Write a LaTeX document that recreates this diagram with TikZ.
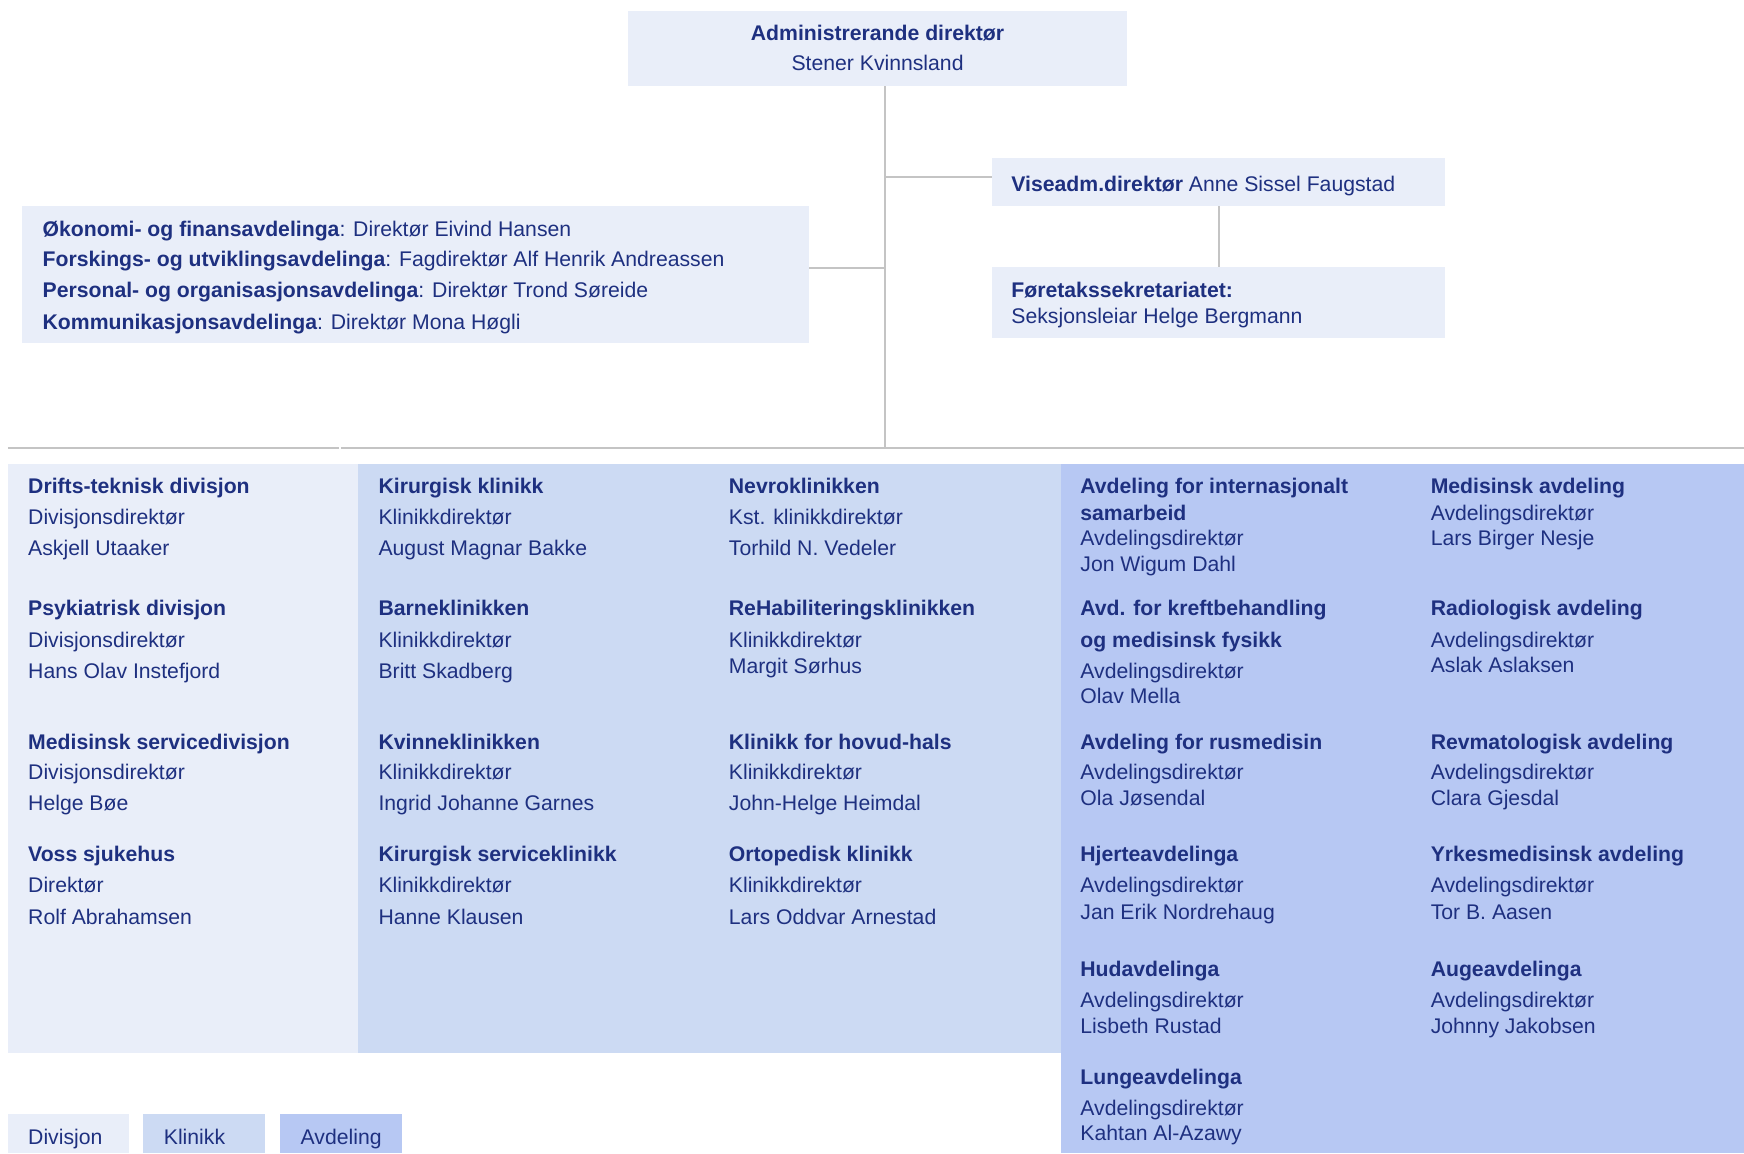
\documentclass[tikz,border=0pt]{standalone}
\usepackage{fontspec}
\setmainfont{Liberation Sans}
\usetikzlibrary{fit}
\definecolor{txt}{RGB}{30,48,128}
\definecolor{cdiv}{RGB}{233,238,249}
\definecolor{ckli}{RGB}{204,218,243}
\definecolor{cavd}{RGB}{183,200,243}
\definecolor{cline}{RGB}{196,196,196}
\begin{document}
\begin{tikzpicture}[x=0.5561pt,y=-0.5561pt,
  panel/.style={fit={#1},inner sep=0pt,draw=none},
  conn/.style={draw=cline,line width=1pt},
  t/.style={anchor=base west,inner sep=0pt,text=txt,font=\fontsize{10.6}{12.7}\selectfont},
  tc/.style={t,anchor=base}]
\useasboundingbox (0,0) rectangle (1568,1037);
% boxes
\node[panel={(565,10) (1013,77)},fill=cdiv] (ceo) {};
\node[panel={(892,142) (1299,185)},fill=cdiv] (vise) {};
\node[panel={(892,240) (1299,304)},fill=cdiv] (fore) {};
\node[panel={(20,185) (727,308)},fill=cdiv] (staff) {};
\node[panel={(7,417) (322,947)},fill=cdiv] (pdiv) {};
\node[panel={(322,417) (954,947)},fill=ckli] (pkli) {};
\node[panel={(954,417) (1568,1037)},fill=cavd] (pavd) {};
\node[panel={(7,1002) (116,1037)},fill=cdiv] (ldiv) {};
\node[panel={(129,1002) (238,1037)},fill=ckli] (lkli) {};
\node[panel={(252,1002) (361,1037)},fill=cavd] (lavd) {};
% connectors
\coordinate (jv) at (796,159);
\coordinate (js) at (796,241);
\coordinate (jb) at (796,403);
\coordinate (vx) at (1096,0);
\coordinate (barL) at (7,403);
\coordinate (gapL) at (305,403);
\coordinate (gapR) at (306.5,403);
\coordinate (barR) at (1568,403);
\draw[conn] (ceo.south -| jb) -- (jb);
\draw[conn] (jv) -- (jv -| vise.west);
\draw[conn] (js) -- (js -| staff.east);
\draw[conn] (vise.south -| vx) -- (fore.north -| vx);
\draw[conn] (barL) -- (gapL);
\draw[conn] (gapR) -- (barR);
% top texts
\node[tc,font=\fontsize{10.6}{12.7}\selectfont\bfseries] (ceo1) at (789,30+6.8) {Administrerande direktør};
\node[tc] (ceo2) at (789,57+6.8) {Stener Kvinnsland};
\node[t] (vise1) at (909,165+6.8) {{\bfseries Viseadm.direktør} Anne Sissel Faugstad};
\node[t] (fore1) at (909,261+6.8) {\bfseries Føretakssekretariatet:};
\node[t] (fore2) at (909,284+6.8) {Seksjonsleiar Helge Bergmann};
\foreach \y/\s [count=\i] in {
  206/{{\bfseries Økonomi- og finansavdelinga}: Direktør Eivind Hansen},
  233/{{\bfseries Forskings- og utviklingsavdelinga}: Fagdirektør Alf Henrik Andreassen},
  261/{{\bfseries Personal- og organisasjonsavdelinga}: Direktør Trond Søreide},
  289/{{\bfseries Kommunikasjonsavdelinga}: Direktør Mona Høgli}}
  \node[t] (st\i) at (38,\y+6.8) {\s};
% division column
\foreach \y/\s [count=\i] in {
  437/{\bfseries Drifts-teknisk divisjon}, 465/Divisjonsdirektør, 493/Askjell Utaaker,
  547/{\bfseries Psykiatrisk divisjon}, 575/Divisjonsdirektør, 603/Hans Olav Instefjord,
  667/{\bfseries Medisinsk servicedivisjon}, 694/Divisjonsdirektør, 722/Helge Bøe,
  768/{\bfseries Voss sjukehus}, 796/Direktør, 824/Rolf Abrahamsen}
  \node[t] (dv\i) at (25,\y+6.8) {\s};
% klinikk column 1
\foreach \y/\s [count=\i] in {
  437/{\bfseries Kirurgisk klinikk}, 465/Klinikkdirektør, 493/August Magnar Bakke,
  547/{\bfseries Barneklinikken}, 575/Klinikkdirektør, 603/Britt Skadberg,
  667/{\bfseries Kvinneklinikken}, 694/Klinikkdirektør, 722/Ingrid Johanne Garnes,
  768/{\bfseries Kirurgisk serviceklinikk}, 796/Klinikkdirektør, 824/Hanne Klausen}
  \node[t] (ka\i) at (340,\y+6.8) {\s};
% klinikk column 2
\foreach \y/\s [count=\i] in {
  437/{\bfseries Nevroklinikken}, 465/Kst. klinikkdirektør, 493/Torhild N. Vedeler,
  547/{\bfseries ReHabiliteringsklinikken}, 575/Klinikkdirektør, 599/Margit Sørhus,
  667/{\bfseries Klinikk for hovud-hals}, 694/Klinikkdirektør, 722/John-Helge Heimdal,
  768/{\bfseries Ortopedisk klinikk}, 796/Klinikkdirektør, 824/Lars Oddvar Arnestad}
  \node[t] (kb\i) at (655,\y+6.8) {\s};
% avdeling column 1
\foreach \y/\s [count=\i] in {
  437/{\bfseries Avdeling for internasjonalt}, 461/{\bfseries samarbeid}, 484/Avdelingsdirektør, 507/Jon Wigum Dahl,
  547/{\bfseries Avd. for kreftbehandling}, 575/{\bfseries og medisinsk fysikk}, 603/Avdelingsdirektør, 626/Olav Mella,
  667/{\bfseries Avdeling for rusmedisin}, 694/Avdelingsdirektør, 717/Ola Jøsendal,
  768/{\bfseries Hjerteavdelinga}, 796/Avdelingsdirektør, 820/Jan Erik Nordrehaug,
  871/{\bfseries Hudavdelinga}, 899/Avdelingsdirektør, 922/Lisbeth Rustad,
  968/{\bfseries Lungeavdelinga}, 996/Avdelingsdirektør, 1019/Kahtan Al-Azawy}
  \node[t] (aa\i) at (971,\y+6.8) {\s};
% avdeling column 2
\foreach \y/\s [count=\i] in {
  437/{\bfseries Medisinsk avdeling}, 461/Avdelingsdirektør, 484/Lars Birger Nesje,
  547/{\bfseries Radiologisk avdeling}, 575/Avdelingsdirektør, 598/Aslak Aslaksen,
  667/{\bfseries Revmatologisk avdeling}, 694/Avdelingsdirektør, 717/Clara Gjesdal,
  768/{\bfseries Yrkesmedisinsk avdeling}, 796/Avdelingsdirektør, 820/Tor B. Aasen,
  871/{\bfseries Augeavdelinga}, 899/Avdelingsdirektør, 922/Johnny Jakobsen}
  \node[t] (ab\i) at (1286,\y+6.8) {\s};
% legend
\node[t] (lg1) at (25,1022+6.8) {Divisjon};
\node[t] (lg2) at (147,1022+6.8) {Klinikk};
\node[t] (lg3) at (270,1022+6.8) {Avdeling};
\end{tikzpicture}
\end{document}
